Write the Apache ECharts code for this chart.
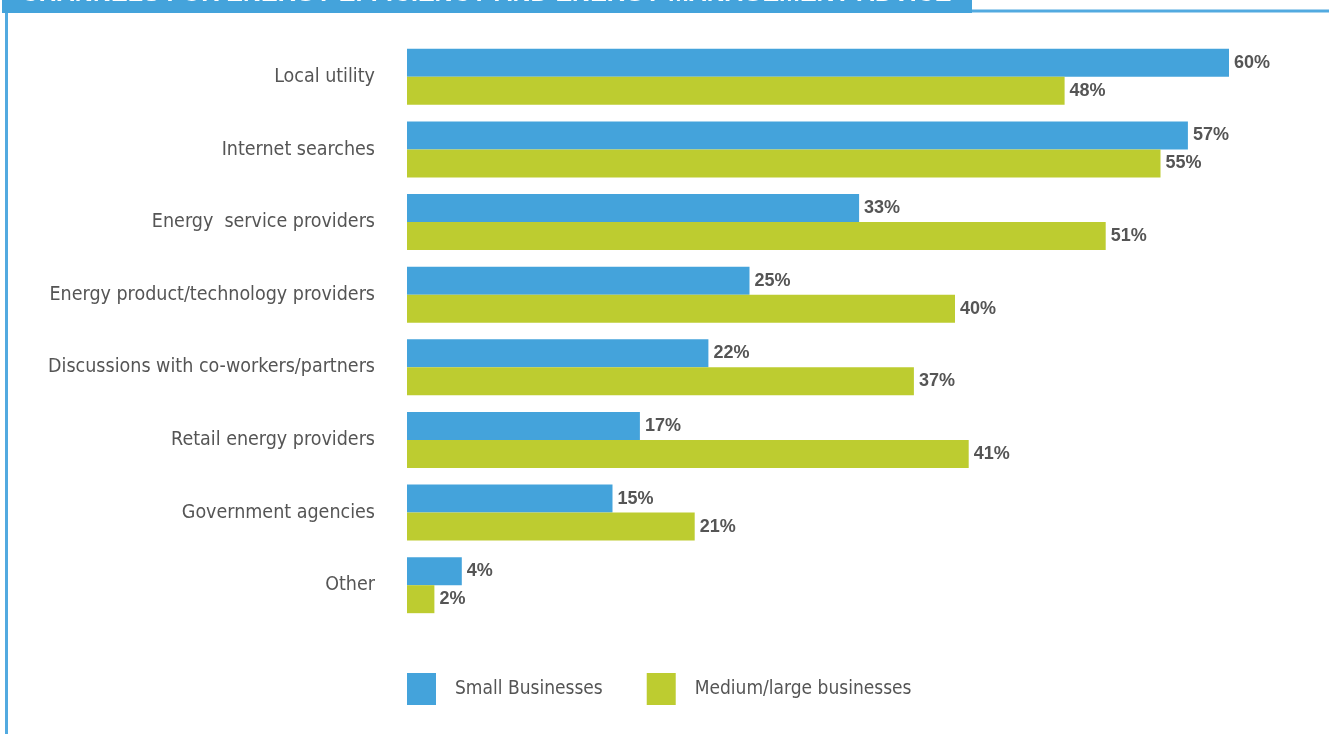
<!DOCTYPE html>
<html>
<head>
<meta charset="utf-8">
<script src="https://cdn.jsdelivr.net/npm/echarts@6/dist/echarts.min.js"></script>
<style>
  html, body { margin: 0; padding: 0; background: #ffffff; }
  #chart { width: 1329px; height: 734px; }
</style>
</head>
<body>
<div id="chart"></div>
<script>
// Channels used for energy efficiency / energy management advice (% of respondents)
const categories = [
  'Local utility',
  'Internet searches',
  'Energy  service providers',
  'Energy product/technology providers',
  'Discussions with co-workers/partners',
  'Retail energy providers',
  'Government agencies',
  'Other'
];
const smallBusinesses = [60, 57, 33, 25, 22, 17, 15, 4];
const mediumLargeBusinesses = [48, 55, 51, 40, 37, 41, 21, 2];
const seriesNames = ['Small Businesses', 'Medium/large businesses'];
const titleText = 'CHANNELS FOR ENERGY EFFICIENCY AND ENERGY MANAGEMENT ADVICE';

const BLUE = '#44A3DB';
const GREEN = '#BDCC30';
const TEXT_GREY = '#555555';
const CONDENSED = '"Liberation Sans Narrow", "DejaVu Sans Condensed", "Roboto", sans-serif';

const chart = echarts.init(document.getElementById('chart'), null, { renderer: 'canvas' });

const valueLabel = {
  show: true,
  position: 'right',
  distance: 5,
  formatter: '{c}%',
  color: TEXT_GREY,
  fontFamily: '"Liberation Sans", Arial, sans-serif',
  fontWeight: 'bold',
  fontSize: 18
};

chart.setOption({
  backgroundColor: '#ffffff',
  animation: false,
  grid: { left: 407, right: 100, top: 40.5, bottom: 112.5, containLabel: false },
  xAxis: {
    type: 'value',
    min: 0,
    max: 60,
    show: false
  },
  yAxis: {
    type: 'category',
    data: categories,
    inverse: true,
    axisLine: { show: false },
    axisTick: { show: false },
    splitLine: { show: false },
    axisLabel: {
      margin: 32,
      color: TEXT_GREY,
      fontFamily: CONDENSED,
      fontSize: 19.5,
      padding: [4, 0, 0, 0]
    }
  },
  legend: {
    left: 407,
    top: 673,
    padding: 0,
    itemWidth: 29,
    itemHeight: 32,
    itemGap: 44,
    icon: 'rect',
    textStyle: {
      color: TEXT_GREY,
      fontFamily: CONDENSED,
      fontSize: 19,
      padding: [4, 0, 0, 14]
    },
    data: seriesNames
  },
  series: [
    {
      name: seriesNames[0],
      type: 'bar',
      data: smallBusinesses,
      barWidth: 28,
      barGap: '0%',
      itemStyle: { color: BLUE },
      label: valueLabel
    },
    {
      name: seriesNames[1],
      type: 'bar',
      data: mediumLargeBusinesses,
      barWidth: 28,
      barGap: '0%',
      itemStyle: { color: GREEN },
      label: valueLabel
    }
  ],
  graphic: [
    // header band with the title running off the top edge
    { type: 'rect', shape: { x: 2, y: -10, width: 970, height: 23 }, style: { fill: BLUE }, z: 10 },
    {
      type: 'text', x: 486, y: 7, z: 11,
      style: {
        text: titleText,
        fill: '#ffffff',
        font: 'bold 25px "Liberation Sans", Arial, sans-serif',
        align: 'center',
        verticalAlign: 'bottom'
      }
    },
    // frame lines
    { type: 'rect', shape: { x: 972, y: 9.5, width: 357, height: 3 }, style: { fill: '#52AAE0' }, z: 10 },
    { type: 'rect', shape: { x: 5, y: 13, width: 3, height: 721 }, style: { fill: '#52AAE0' }, z: 10 }
  ]
});
</script>
</body>
</html>
